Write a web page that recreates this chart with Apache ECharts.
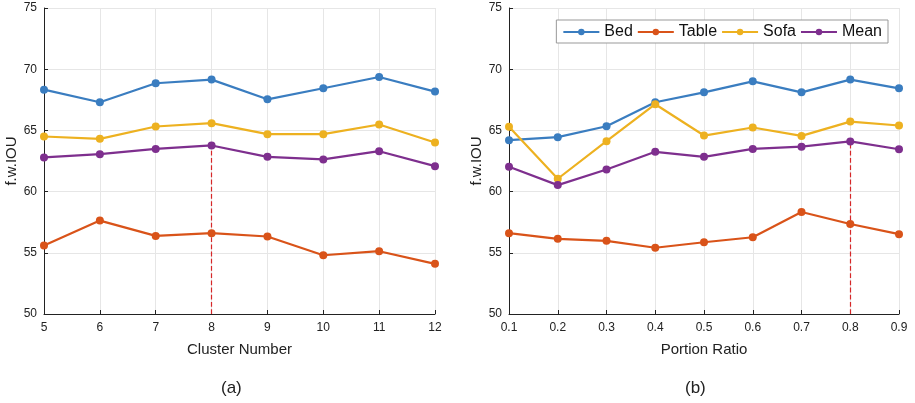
<!DOCTYPE html>
<html>
<head>
<meta charset="utf-8">
<script src="https://cdn.jsdelivr.net/npm/echarts@6/dist/echarts.min.js"></script>
<style>
  html, body { margin: 0; padding: 0; background: #fff; }
  #chart { width: 915px; height: 403px; }
</style>
</head>
<body>
<div id="chart"></div>
<script>
// panel (a): cluster number
const clusterX = ['5', '6', '7', '8', '9', '10', '11', '12']
const bedA = [68.33, 67.30, 68.85, 69.15, 67.54, 68.44, 69.36, 68.17]
const tableA = [55.6, 57.63, 56.38, 56.6, 56.33, 54.8, 55.13, 54.1]
const sofaA = [64.5, 64.31, 65.32, 65.59, 64.69, 64.69, 65.48, 64.01]
const meanA = [62.79, 63.06, 63.49, 63.77, 62.84, 62.63, 63.3, 62.08]

// panel (b): portion ratio
const ratioX = ['0.1', '0.2', '0.3', '0.4', '0.5', '0.6', '0.7', '0.8', '0.9']
const bedB = [64.2, 64.45, 65.34, 67.3, 68.11, 69.01, 68.11, 69.15, 68.44]
const tableB = [56.6, 56.14, 55.98, 55.41, 55.86, 56.27, 58.33, 57.35, 56.52]
const sofaB = [65.29, 61.05, 64.12, 67.14, 64.58, 65.24, 64.55, 65.72, 65.4]
const meanB = [62.03, 60.53, 61.81, 63.25, 62.84, 63.49, 63.67, 64.1, 63.46]

const names = ['Bed', 'Table', 'Sofa', 'Mean']
const colors = ['#3a7dc0', '#d95319', '#edb120', '#7e2f8e']

const font = 'Liberation Sans, Arial, sans-serif'
const chart = echarts.init(document.getElementById('chart'))

function xAxis(idx, data, title) {
  return {
    type: 'category',
    gridIndex: idx,
    data: data,
    boundaryGap: false,
    name: title,
    nameLocation: 'middle',
    nameGap: 28,
    nameTextStyle: { fontFamily: font, fontSize: 15, color: '#222' },
    axisLine: { lineStyle: { color: '#222', width: 1 } },
    axisTick: { show: true, inside: true, length: 4, lineStyle: { color: '#222' } },
    axisLabel: { fontFamily: font, fontSize: 12, color: '#222', margin: 8 },
    splitLine: { show: true, lineStyle: { color: '#e6e6e6' } }
  }
}

function yAxis(idx) {
  return {
    type: 'value',
    gridIndex: idx,
    min: 50,
    max: 75,
    interval: 5,
    name: 'f.w.IOU',
    nameLocation: 'middle',
    nameGap: 23,
    nameTextStyle: { fontFamily: font, fontSize: 15, color: '#222' },
    axisLine: { show: true, lineStyle: { color: '#222', width: 1 } },
    axisTick: { show: true, inside: true, length: 4, lineStyle: { color: '#222' } },
    axisLabel: { fontFamily: font, fontSize: 12, color: '#222', margin: 7 },
    splitLine: { show: true, lineStyle: { color: '#e6e6e6' } }
  }
}

function line(name, data, idx, color, mark) {
  const s = {
    name: name,
    type: 'line',
    xAxisIndex: idx,
    yAxisIndex: idx,
    data: data,
    symbol: 'circle',
    symbolSize: 8,
    lineStyle: { width: 2.2, color: color },
    itemStyle: { color: color },
    emphasis: { disabled: true },
    z: 3
  }
  if (mark) {
    const cats = idx === 0 ? clusterX : ratioX
    s.markLine = {
      silent: true,
      symbol: 'none',
      label: { show: false },
      lineStyle: { color: '#d62728', type: 'dashed', width: 1.2 },
      data: [[{ coord: [mark, 50] }, { coord: [mark, data[cats.indexOf(mark)]] }]],
      z: 2
    }
  }
  return s
}

const option = {
  animation: false,
  grid: [
    { left: 44, right: 480, top: 8, bottom: 89 },
    { left: 509, right: 16, top: 8, bottom: 89 }
  ],
  legend: {
    data: names,
    right: 27,
    top: 20,
    padding: [4, 6, 3, 6],
    itemGap: 4,
    itemWidth: 36,
    itemHeight: 8,
    backgroundColor: '#fff',
    borderColor: '#999',
    borderWidth: 1,
    textStyle: { fontFamily: font, fontSize: 16, color: '#111' }
  },
  xAxis: [xAxis(0, clusterX, 'Cluster Number'), xAxis(1, ratioX, 'Portion Ratio')],
  yAxis: [yAxis(0), yAxis(1)],
  graphic: [
    { type: 'text', left: 221, top: 380, style: { text: '(a)', font: '17px ' + font, fill: '#222' } },
    { type: 'text', left: 685, top: 380, style: { text: '(b)', font: '17px ' + font, fill: '#222' } }
  ],
  series: [
    line('Bed', bedA, 0, colors[0]),
    line('Table', tableA, 0, colors[1]),
    line('Sofa', sofaA, 0, colors[2]),
    line('Mean', meanA, 0, colors[3], '8'),
    line('Bed', bedB, 1, colors[0]),
    line('Table', tableB, 1, colors[1]),
    line('Sofa', sofaB, 1, colors[2]),
    line('Mean', meanB, 1, colors[3], '0.8')
  ]
}

chart.setOption(option)
</script>
</body>
</html>
